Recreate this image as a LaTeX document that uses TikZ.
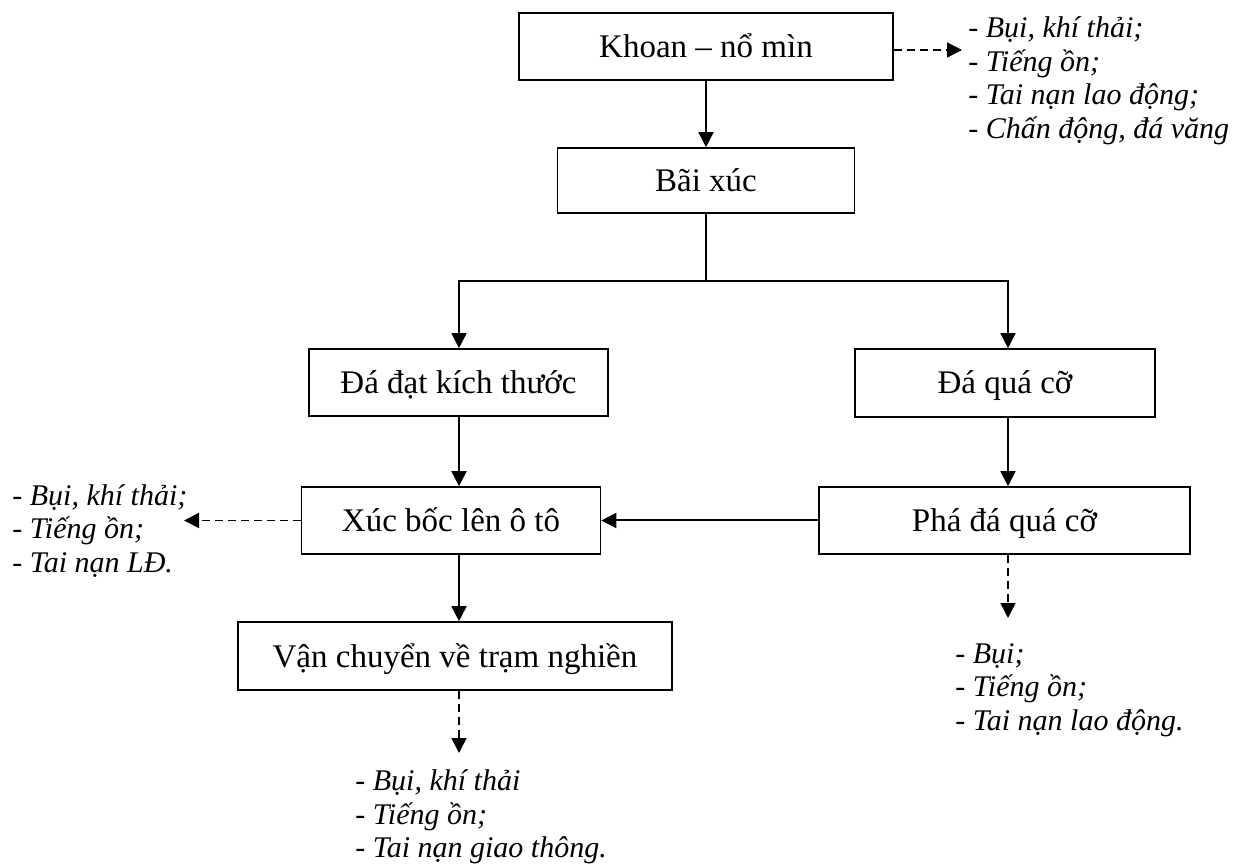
\documentclass[tikz,border=0pt]{standalone}
\usepackage{fontspec}
\setmainfont{Liberation Serif}
\usetikzlibrary{arrows.meta}
\begin{document}
\begin{tikzpicture}[x=0.5pt,y=-0.5pt,
  box/.style={draw,line width=0.8pt,rectangle,inner sep=0pt,text height=11pt,text depth=0pt,font=\fontsize{16.5}{20}\selectfont},
  lbl/.style={align=left,inner sep=0pt,anchor=west,font=\fontsize{15}{16.75}\selectfont\itshape},
  arr/.style={line width=0.8pt,-{Triangle[width=7.5pt,length=7.5pt]}},
  darr/.style={arr,dash pattern=on 4pt off 2.5pt}]
\useasboundingbox (0,0) rectangle (1247,865);
% boxes
\node[box,minimum width=187pt,minimum height=33.5pt] (k1) at (706,46.5) {Khoan – nổ mìn};
\node[box,minimum width=148.5pt,minimum height=32.5pt] (k2) at (706,180.5) {Bãi xúc};
\node[box,minimum width=149.5pt,minimum height=33.5pt] (k3) at (458.5,382.5) {Đá đạt kích thước};
\node[box,minimum width=150pt,minimum height=34pt] (k4) at (1005,383) {Đá quá cỡ};
\node[box,minimum width=149.5pt,minimum height=33.5pt] (k5) at (451,520.5) {Xúc bốc lên ô tô};
\node[box,minimum width=185.5pt,minimum height=33.5pt] (k6) at (1004.5,520.5) {Phá đá quá cỡ};
\node[box,minimum width=217pt,minimum height=34pt] (k7) at (455,656) {Vận chuyển về trạm nghiền};
% helper coordinates
\coordinate (xl) at (459,0);
\coordinate (xr) at (1008,0);
\coordinate (sp) at (706,281);
\coordinate (d1) at (962,50);
\coordinate (d2) at (184,520.5);
\coordinate (d3) at (1008,618);
\coordinate (d4) at (459,753);
% labels
\node[lbl] (t1) at (968,81) {- Bụi, khí thải;\\- Tiếng ồn;\\- Tai nạn lao động;\\- Chấn động, đá văng};
\node[lbl] (t2) at (12,531) {- Bụi, khí thải;\\- Tiếng ồn;\\- Tai nạn LĐ.};
\node[lbl] (t3) at (955,690) {- Bụi;\\- Tiếng ồn;\\- Tai nạn lao động.};
\node[lbl] (t4) at (355,817) {- Bụi, khí thải\\- Tiếng ồn;\\- Tai nạn giao thông.};
% connectors
\draw[arr] (k1.south) -- (k2.north);
\draw[line width=0.8pt] (k2.south) -- (sp);
\draw[arr] (sp) -| (k3.north -| xl);
\draw[arr] (sp) -| (k4.north -| xr);
\draw[arr] (k3.south -| xl) -- (k5.north -| xl);
\draw[arr] (k4.south -| xr) -- (k6.north -| xr);
\draw[arr] (k5.south -| xl) -- (k7.north -| xl);
\draw[arr,line width=1pt] (k6.west) -- (k5.east);
\draw[darr] (k1.east |- d1) -- (d1);
\draw[darr] (k5.west) -- (d2);
\draw[darr] (k6.south -| xr) -- (d3);
\draw[darr] (k7.south -| xl) -- (d4);
\end{tikzpicture}
\end{document}
